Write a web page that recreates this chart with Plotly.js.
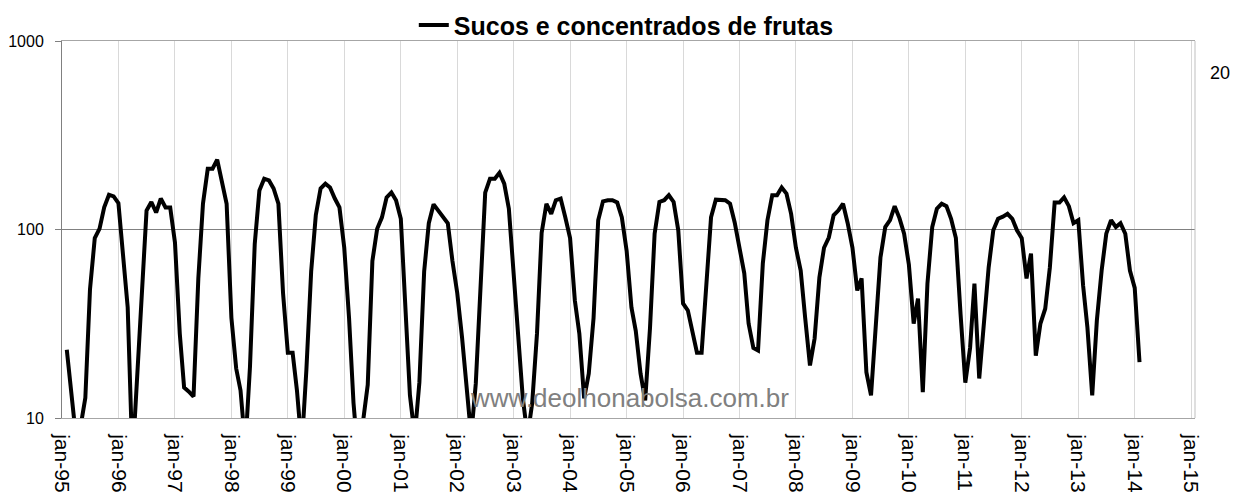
<!DOCTYPE html>
<html>
<head>
<meta charset="utf-8">
<script src="https://cdn.plot.ly/plotly-3.0.1.min.js"></script>
<style>
  body { margin: 0; background: #fff; }
  #grafico { width: 1234px; height: 495px; }
</style>
</head>
<body>
<div id="grafico"></div>
<script>
// Serie mensal, comeca em fev-95 e vai ate fev-14
var inicioAno = 1995;
var inicioMes = 2;

var valores = [
  23, 14.5, 8, 9, 12.8, 48, 90, 101, 131, 153, 150,            // 1995 (fev-dez)
  138, 68, 38.6, 6, 15.4, 49, 126, 140, 123, 146, 131, 131,     // 1996
  85, 28, 14.5, 13.8, 13, 55, 137, 210, 210, 235, 178, 137,     // 1997
  34, 18.3, 14, 7, 18.6, 84, 161, 186, 182, 165, 137, 46,       // 1998
  22.2, 22.2, 14, 7, 18, 60, 119, 165, 175, 167, 146, 131,      // 1999
  80, 34, 12, 6, 9.5, 15, 68, 101, 116, 148, 157, 143,          // 2000
  114, 38.6, 13.2, 8, 15.4, 60, 108, 136, 126, 117, 108, 68,    // 2001
  46, 26.8, 15.2, 8, 15.2, 47.5, 157, 186, 186, 200, 175, 129,  // 2002
  60, 24.2, 12.8, 8, 12, 28, 96, 137, 121, 143, 146, 116,       // 2003
  90, 42, 28, 12.7, 17.2, 34, 112, 141, 143, 143, 139, 116,     // 2004
  77, 38.6, 29, 17.2, 12.4, 30, 95, 140, 143, 152, 140, 99,     // 2005
  40.5, 37.2, 29, 22.2, 22.2, 53.7, 116, 144, 144, 143, 137, 109, // 2006
  80, 58.5, 31.7, 23.5, 22.8, 66, 112, 152, 152, 167, 155, 121, // 2007
  80, 60.6, 34, 19, 26.4, 55.6, 80, 90.7, 119, 126, 137, 108,   // 2008
  80, 47.5, 55, 17.5, 13.2, 31.7, 71, 103, 112, 133, 115, 95,   // 2009
  65, 31.7, 43, 13.7, 51.6, 103, 129, 137, 133, 114, 90, 35.8,  // 2010
  15.4, 23.6, 51.6, 16.2, 31.7, 62.9, 99, 114, 117, 121, 114, 99, // 2011
  90, 55, 74.6, 21.4, 31.7, 38, 62.9, 139, 139, 148, 133, 108,  // 2012
  112, 50.5, 30.2, 13.2, 32.9, 60.6, 95, 112, 103, 108, 95, 60.6, // 2013
  49, 19.8                                                      // 2014 (jan-fev)
];

// Rotulos do eixo x (janeiro de cada ano)
var anosTick = [1995, 1996, 1997, 1998, 1999, 2000, 2001, 2002, 2003, 2004,
                2005, 2006, 2007, 2008, 2009, 2010, 2011, 2012, 2013, 2014, 2015];
var rotulos = ['jan-95', 'jan-96', 'jan-97', 'jan-98', 'jan-99', 'jan-00', 'jan-01',
               'jan-02', 'jan-03', 'jan-04', 'jan-05', 'jan-06', 'jan-07', 'jan-08',
               'jan-09', 'jan-10', 'jan-11', 'jan-12', 'jan-13', 'jan-14', 'jan-15'];

// Eixo y (log)
var yTicks = [10, 100, 1000];
var yRotulos = ['10', '100', '1000'];

// monta as datas mensais
var datas = [];
for (var i = 0; i < valores.length; i++) {
  var m = inicioMes - 1 + i;
  var ano = inicioAno + Math.floor(m / 12);
  var mes = (m % 12) + 1;
  datas.push(ano + '-' + (mes < 10 ? '0' + mes : mes) + '-01');
}
var tickDatas = anosTick.map(function (a) { return a + '-01-01'; });

var fonte = 'Liberation Sans, Arial, sans-serif';

var serie = {
  x: datas,
  y: valores,
  name: 'Sucos e concentrados de frutas',
  type: 'scatter',
  mode: 'lines',
  line: {color: '#000000', width: 4}
};

var layout = {
  width: 1234,
  height: 495,
  paper_bgcolor: '#ffffff',
  plot_bgcolor: '#ffffff',
  font: {family: fonte, color: '#000000', size: 16},
  margin: {t: 41, l: 62, r: 39, b: 77, autoexpand: false},
  showlegend: true,
  legend: {
    orientation: 'h',
    x: 0.3105, xanchor: 'left',
    y: 1.042, yanchor: 'middle',
    bgcolor: 'rgba(0,0,0,0)',
    font: {family: fonte, size: 25, color: '#000000', weight: 'bold'}
  },
  xaxis: {
    type: 'date',
    range: ['1995-01-01', '2015-01-26'],
    tickvals: tickDatas,
    ticktext: rotulos,
    tickangle: 90,
    tickfont: {family: fonte, size: 21, color: '#000000'},
    ticks: '',
    ticklabelstandoff: 11,
    showgrid: true,
    gridcolor: '#d9d9d9',
    gridwidth: 1,
    showline: true,
    mirror: true,
    linecolor: '#a6a6a6',
    linewidth: 1,
    zeroline: false
  },
  yaxis: {
    type: 'log',
    range: [1, 3],
    tickvals: yTicks,
    ticktext: yRotulos,
    tickfont: {family: fonte, size: 16, color: '#000000'},
    ticks: 'outside',
    ticklen: 6,
    tickcolor: '#808080',
    ticklabelstandoff: 8,
    showgrid: true,
    gridcolor: '#808080',
    gridwidth: 1,
    showline: true,
    linecolor: '#808080',
    linewidth: 1,
    zeroline: false
  },
  shapes: [
    // borda direita da area do grafico
    {type: 'line', xref: 'paper', yref: 'paper', x0: 1, x1: 1, y0: 0, y1: 1,
     line: {color: '#bfbfbf', width: 1}}
  ],
  annotations: [
    {text: 'www.deolhonabolsa.com.br', xref: 'paper', yref: 'paper',
     x: 0.5013, y: 0.053, xanchor: 'center', yanchor: 'middle', showarrow: false,
     font: {family: fonte, size: 26, color: '#808080'}},
    {text: '20', xref: 'paper', yref: 'paper',
     x: 1.0221, y: 0.9151, xanchor: 'center', yanchor: 'middle', showarrow: false,
     font: {family: fonte, size: 18, color: '#000000'}}
  ]
};

Plotly.newPlot('grafico', [serie], layout, {staticPlot: true});
</script>
</body>
</html>
